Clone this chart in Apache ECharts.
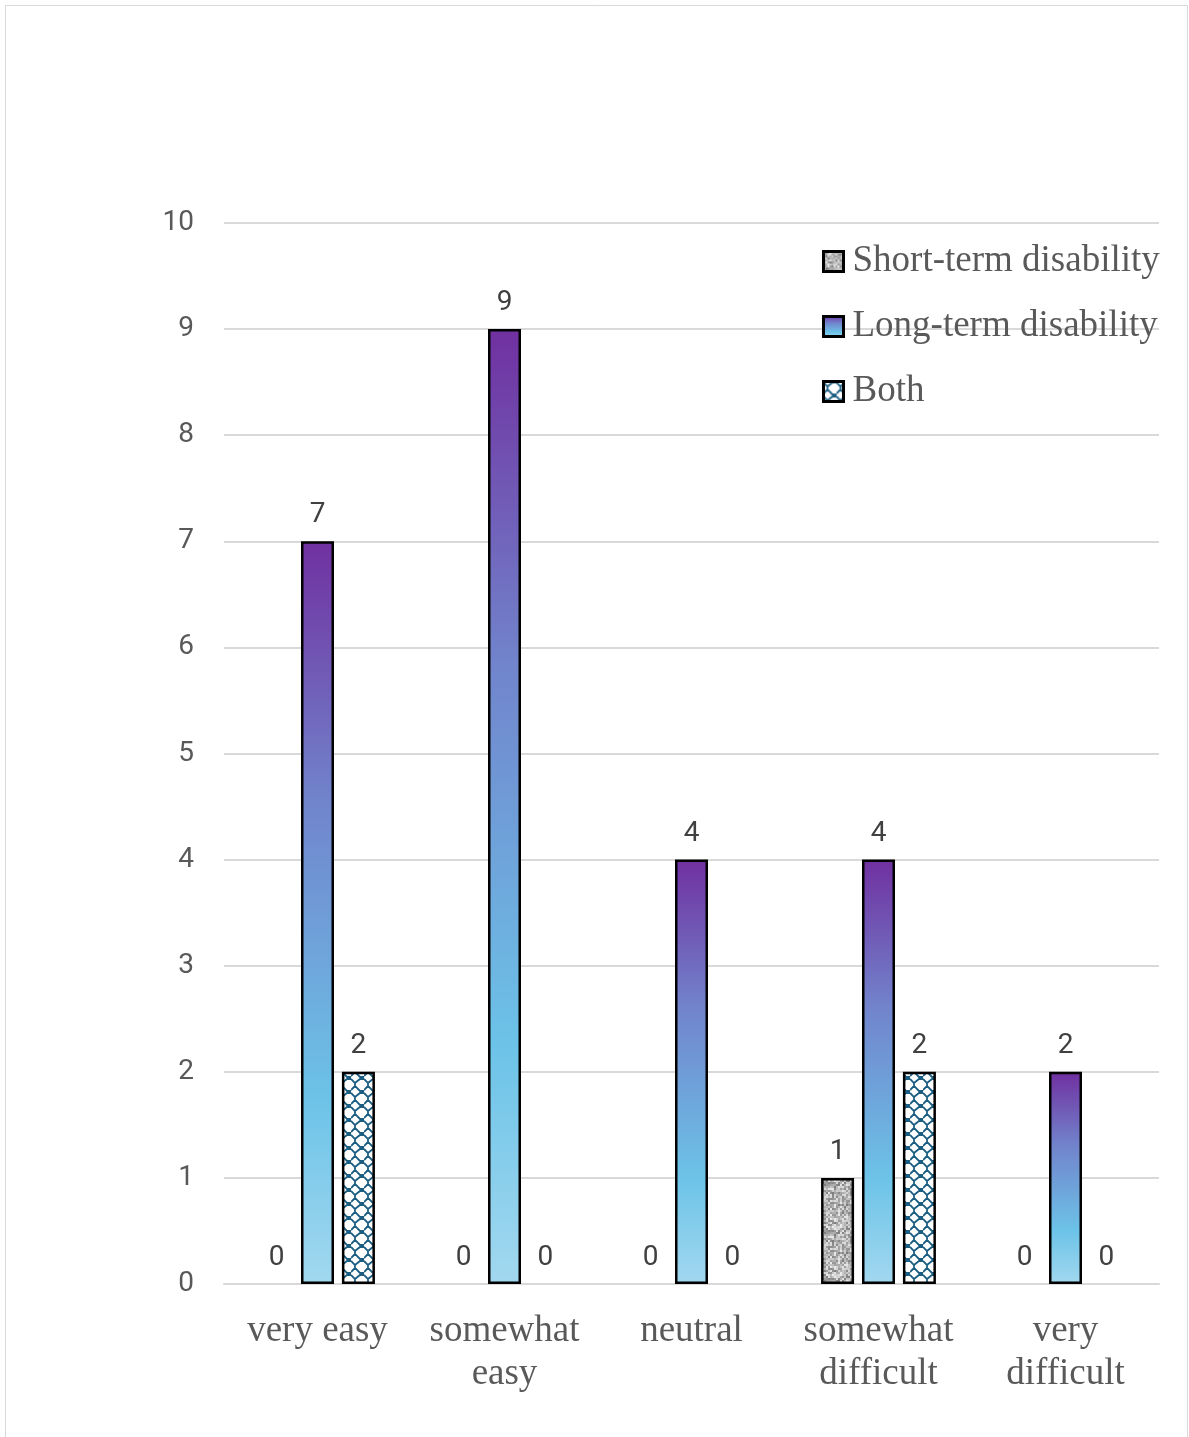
<!DOCTYPE html>
<html>
<head>
<meta charset="utf-8">
<script src="https://cdn.jsdelivr.net/npm/echarts@6/dist/echarts.min.js"></script>
<style>
  html, body { margin: 0; padding: 0; background: #fff; }
  #chart { width: 1189px; height: 1437px; }
</style>
</head>
<body>
<div id="chart"></div>
<script>
var categories = ['very easy', 'somewhat easy', 'neutral', 'somewhat difficult', 'very difficult'];
var categoryLabels = ['very easy', 'somewhat\neasy', 'neutral', 'somewhat\ndifficult', 'very\ndifficult'];
var shortTerm = [0, 0, 0, 1, 0];
var longTerm = [7, 9, 4, 4, 2];
var both = [2, 0, 0, 2, 0];

// grey granite texture (deterministic)
function makeGranite() {
    var c = document.createElement('canvas');
    c.width = 48; c.height = 48;
    var ctx = c.getContext('2d');
    var seed = 12345;
    function rnd() {
        seed = (seed * 1103515245 + 12345) & 0x7fffffff;
        return seed / 0x7fffffff;
    }
    for (var y = 0; y < 48; y += 2) {
        for (var x = 0; x < 48; x += 2) {
            var g = Math.round(125 + rnd() * 110);
            ctx.fillStyle = 'rgb(' + g + ',' + g + ',' + g + ')';
            ctx.fillRect(x, y, 2, 2);
        }
    }
    return c;
}

// white tile with teal zigzag wave
function makeWave() {
    var c = document.createElement('canvas');
    c.width = 13; c.height = 14;
    var ctx = c.getContext('2d');
    ctx.fillStyle = '#ffffff';
    ctx.fillRect(0, 0, 13, 14);
    ctx.strokeStyle = '#1b5e82';
    ctx.lineWidth = 1.8;
    ctx.beginPath();
    ctx.moveTo(0, 1); ctx.lineTo(4, 5); ctx.lineTo(4, 8); ctx.lineTo(9, 13); ctx.lineTo(13, 13);
    ctx.moveTo(4, 5); ctx.lineTo(9, 1); ctx.lineTo(13, 1);
    ctx.moveTo(4, 8); ctx.lineTo(0, 12);
    ctx.stroke();
    return c;
}

var chart = echarts.init(document.getElementById('chart'), null, { renderer: 'canvas' });

var longGradient = new echarts.graphic.LinearGradient(0, 0, 0, 1, [
    { offset: 0, color: '#7030a0' },
    { offset: 0.35, color: '#7184cc' },
    { offset: 0.75, color: '#6cc3e8' },
    { offset: 1, color: '#a2d8ef' }
]);

var valueLabel = {
    show: true,
    position: 'top',
    distance: 12,
    color: '#404040',
    fontSize: 28,
    fontFamily: 'Roboto'
};

function toData(arr) {
    return arr.map(function (v) {
        return v === 0 ? { value: v, itemStyle: { borderWidth: 0 } } : { value: v };
    });
}

var option = {
    backgroundColor: '#ffffff',
    animation: false,
    graphic: [{
        type: 'rect',
        shape: { x: 5.5, y: 5.5, width: 1182, height: 1450 },
        style: { fill: 'none', stroke: '#d9d9d9', lineWidth: 1 },
        silent: true
    }],
    legend: {
        orient: 'vertical',
        left: 817,
        top: 238,
        itemWidth: 20,
        itemHeight: 20,
        itemGap: 28,
        icon: 'rect',
        itemStyle: { borderWidth: 3, borderColor: '#000000' },
        textStyle: {
            color: '#595959',
            fontSize: 37,
            fontFamily: 'Liberation Serif',
            padding: [0, 0, 0, 4]
        },
        data: ['Short-term disability', 'Long-term disability', 'Both']
    },
    grid: {
        left: 224,
        right: 30,
        top: 223,
        bottom: 153,
        containLabel: false
    },
    xAxis: {
        type: 'category',
        data: categories,
        axisTick: { show: false },
        axisLine: { show: true, lineStyle: { color: '#d9d9d9', width: 2 } },
        axisLabel: {
            interval: 0,
            margin: 26,
            color: '#595959',
            fontSize: 37,
            lineHeight: 43,
            fontFamily: 'Liberation Serif',
            formatter: function (v, i) { return categoryLabels[i]; }
        }
    },
    yAxis: {
        type: 'value',
        min: 0,
        max: 10,
        interval: 1,
        axisLine: { show: false },
        axisTick: { show: false },
        splitLine: { lineStyle: { color: '#d9d9d9', width: 2 } },
        axisLabel: {
            margin: 30,
            color: '#595959',
            fontSize: 28,
            fontFamily: 'Roboto'
        }
    },
    series: [{
        name: 'Short-term disability',
        type: 'bar',
        barWidth: 33,
        barGap: '24%',
        data: toData(shortTerm),
        itemStyle: {
            color: { image: makeGranite(), repeat: 'repeat' },
            borderColor: '#000000',
            borderWidth: 2.5
        },
        label: valueLabel
    }, {
        name: 'Long-term disability',
        type: 'bar',
        barWidth: 33,
        barGap: '24%',
        data: toData(longTerm),
        itemStyle: {
            color: longGradient,
            borderColor: '#000000',
            borderWidth: 2.5
        },
        label: valueLabel
    }, {
        name: 'Both',
        type: 'bar',
        barWidth: 33,
        barGap: '24%',
        data: toData(both),
        itemStyle: {
            color: { image: makeWave(), repeat: 'repeat' },
            borderColor: '#000000',
            borderWidth: 2.5
        },
        label: valueLabel
    }]
};

chart.setOption(option);
</script>
</body>
</html>
